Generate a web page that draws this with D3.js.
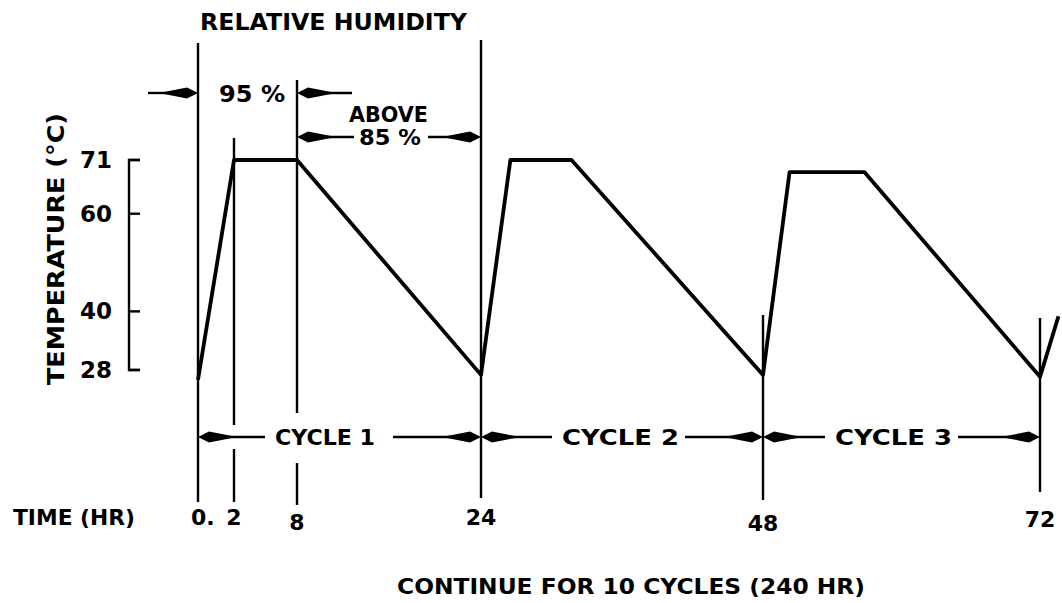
<!DOCTYPE html>
<html>
<head>
<meta charset="utf-8">
<script src="https://cdn.jsdelivr.net/npm/d3@7"></script>
<style>
  body { margin: 0; background: #fff; }
  text { font-family: "DejaVu Sans", sans-serif; font-weight: bold; fill: #000; }
</style>
</head>
<body>
<svg id="chart" width="1062" height="603"></svg>
<script>
// time ticks (hr) and their labels
var timeTicks = [0, 2, 8, 24, 48, 72];
var timeLabels = ["0.", "2", "8", "24", "48", "72"];
// temperature ticks (°C)
var tempTicks = [71, 60, 40, 28];
// temperature profile
var profileTime = [0, 2, 8, 24, 26.5, 31.7, 48, 50.3, 56.8, 72, 73.6];
var profileTemp = [26, 71, 71, 27, 71, 71, 27, 68.5, 68.5, 26.6, 39];
// relative humidity spans
var rhFrom = [0, 8];
var rhTo = [8, 24];
var rhLabels = ["95 %", "85 %"];
// cycles
var cycleStart = [0, 24, 48];
var cycleEnd = [24, 48, 72];
var cycleLabels = ["CYCLE 1", "CYCLE 2", "CYCLE 3"];

var svg = d3.select('#chart');

// the drawing is a schematic, so the time axis is piecewise
var x = d3.scaleLinear()
    .domain(timeTicks)
    .range([198, 234, 297, 481, 763, 1040]);
var y = d3.scaleLinear()
    .domain([28, 71])
    .range([370, 160]);

// lettering, squeezed to the width it has on the drawing
function label(g, txt, tx, ty, w, size, anchor) {
    var t = g.append("text")
        .attr("x", tx).attr("y", ty)
        .attr("text-anchor", anchor || "start")
        .style("font-size", size + "px")
        .text(txt);
    if (w) t.attr("textLength", w).attr("lengthAdjust", "spacingAndGlyphs");
    return t;
}
// drafting style arrowhead, tip at (tx,ty); dir 1 = points left
function arrowHead(g, tx, ty, dir) {
    g.append("path")
        .attr("d", "M0,0 L11,-5.5 L34,-1 L34,1 L11,5.5 Z")
        .attr("transform", "translate(" + tx + "," + ty + ") scale(" + dir + ",1)")
        .attr("fill", "#000");
}
function hline(g, x1, x2, yy) {
    g.append("line")
        .attr("x1", x1).attr("x2", x2)
        .attr("y1", yy).attr("y2", yy)
        .attr("stroke", "#000").attr("stroke-width", 2.4);
}
function vline(g, xx, y1, y2) {
    g.append("line")
        .attr("x1", xx).attr("x2", xx)
        .attr("y1", y1).attr("y2", y2)
        .attr("stroke", "#000").attr("stroke-width", 2.4);
}

// vertical time lines
var vTop = {0: 43, 2: 138, 8: 80, 24: 40, 48: 315, 72: 318};
var vBottom = {0: 502, 2: 502, 8: 505, 24: 498, 48: 500, 72: 492};
var vg = svg.append("g");
timeTicks.forEach(function(t) {
    if (t == 8) {
        // line 8 is broken where the cycle label passes
        vline(vg, x(t), vTop[t], 413);
        vline(vg, x(t), 463, vBottom[t]);
    } else if (t == 2) {
        vline(vg, x(t), vTop[t], 425);
        vline(vg, x(t), 449, vBottom[t]);
    } else {
        vline(vg, x(t), vTop[t], vBottom[t]);
    }
});

// temperature bracket axis
var ya = svg.append("g");
ya.append("path")
    .attr("d", "M140," + y(71) + " H129 V" + y(28) + " H140")
    .attr("fill", "none").attr("stroke", "#000").attr("stroke-width", 2.4);
tempTicks.forEach(function(t) {
    hline(ya, 129, 140, y(t));
    label(ya, t, 112, y(t) + 8, null, 23, "end");
});
label(ya, "TEMPERATURE (°C)", 0, 0, 272, 23, "middle")
    .attr("transform", "translate(64,249) rotate(-90)");

// temperature profile
var line = d3.line()
    .x(function(d, i) { return x(profileTime[i]); })
    .y(function(d, i) { return y(profileTemp[i]); });
svg.append("path")
    .datum(profileTemp)
    .attr("d", line)
    .attr("fill", "none")
    .attr("stroke", "#000")
    .attr("stroke-width", 3.8)
    .attr("stroke-linejoin", "round");

// relative humidity
var rh = svg.append("g");
label(rh, "RELATIVE HUMIDITY", 200, 30, 267, 23);
// 95 %: arrows point in from outside
var r1 = 93;
hline(rh, x(rhFrom[0]) - 50, x(rhFrom[0]) - 20, r1);
arrowHead(rh, x(rhFrom[0]), r1, -1);
hline(rh, x(rhTo[0]) + 20, x(rhTo[0]) + 55, r1);
arrowHead(rh, x(rhTo[0]), r1, 1);
label(rh, rhLabels[0], 219, r1 + 9, 66, 23);
// above 85 %: arrows point out to the lines
var r2 = 137;
label(rh, "ABOVE", 349, 122, 79, 21);
label(rh, rhLabels[1], 359, r2 + 8, 62, 21);
arrowHead(rh, x(rhFrom[1]), r2, 1);
hline(rh, x(rhFrom[1]) + 20, 354, r2);
hline(rh, 428, x(rhTo[1]) - 20, r2);
arrowHead(rh, x(rhTo[1]), r2, -1);

// cycles
var cy = 437;
var cg = svg.append("g");
var labelStart = [275, 562, 835];
var labelWidth = [100, 117, 117];
cycleLabels.forEach(function(lbl, i) {
    var a = x(cycleStart[i]), b = x(cycleEnd[i]);
    arrowHead(cg, a, cy, 1);
    hline(cg, a + 20, labelStart[i] - 10, cy);
    hline(cg, labelStart[i] + labelWidth[i] + (i == 0 ? 18 : 6), b - 20, cy);
    arrowHead(cg, b, cy, -1);
    label(cg, lbl, labelStart[i], cy + 8, labelWidth[i], 22);
});

// time labels
var tg = svg.append("g");
label(tg, "TIME (HR)", 13, 525, 122, 22);
var labelDrop = {0: 0, 2: 0, 8: 5, 24: 0, 48: 6, 72: 2};
timeTicks.forEach(function(t, i) {
    label(tg, timeLabels[i], t == 0 ? x(t) - 7 : x(t), 525 + labelDrop[t], null, 22,
        t == 0 ? "start" : "middle");
});

label(svg, "CONTINUE FOR 10 CYCLES (240 HR)", 397, 594, 468, 22);
</script>
</body>
</html>
